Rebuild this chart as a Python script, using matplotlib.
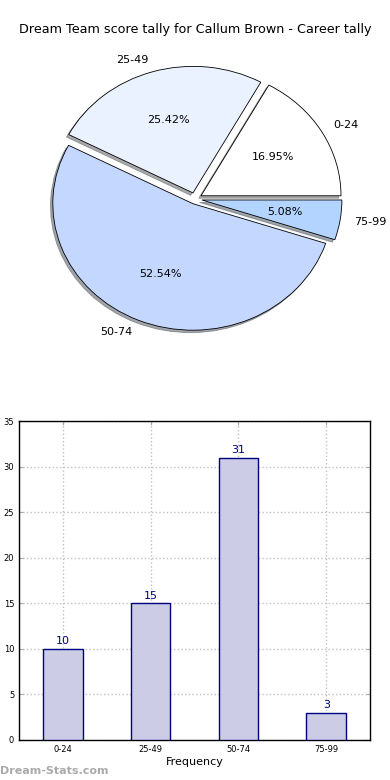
import matplotlib
matplotlib.use("Agg")
import matplotlib.pyplot as plt

# data
ranges = ["0-24", "25-49", "50-74", "75-99"]
counts = [10, 15, 31, 3]
pie_colors = ["#ffffff", "#eaf1ff", "#c4d8ff", "#b3d4ff"]
explode = [0.05, 0.05, 0.04, 0.05]
title = "Dream Team score tally for Callum Brown - Career tally"

fig = plt.figure(figsize=(3.9, 7.8), dpi=100)

# pie (old style, not forced to equal aspect)
ax1 = fig.add_axes([0.0333, 0.534, 0.9333, 0.4218])
wedges, texts, autotexts = ax1.pie(counts, labels=ranges, colors=pie_colors,
                                   explode=explode, autopct="%1.2f%%",
                                   shadow=dict(ox=-0.012, oy=-0.014, shade=0.65),
                                   startangle=0, counterclock=True,
                                   wedgeprops=dict(edgecolor="black", linewidth=0.6),
                                   textprops=dict(fontsize=8))
ax1.set_aspect("auto")
ax1.set_xlim(-1.3, 1.3)
ax1.set_ylim(-1.3, 1.3)
ax1.axis("off")
fig.text(0.5, 1 - 30 / 780, title, ha="center", va="center", fontsize=9.2)

# bar chart
ax2 = fig.add_axes([0.049, 0.0513, 0.9, 0.4087])
x = list(range(len(ranges)))
bars = ax2.bar(x, counts, width=0.45, color="#ccccE6", edgecolor="#000080",
               linewidth=1, zorder=3)
for xi, c in zip(x, counts):
    ax2.text(xi, c + 0.3, str(c), ha="center", va="bottom", fontsize=8,
             color="#000080", zorder=4)
ax2.set_xlim(-0.5, 3.5)
ax2.set_ylim(0, 35)
ax2.set_xticks(x)
ax2.set_xticklabels(ranges)
ax2.set_yticks(range(0, 36, 5))
ax2.tick_params(direction="in", labelsize=6, length=3, color="#aaaaaa",
                top=True, right=True)
ax2.grid(True, linestyle=":", color="#c0c0c0", linewidth=1, zorder=0)
ax2.set_xlabel("Frequency", fontsize=8, labelpad=2)
ax2.set_ylabel("Dream Team Tally", fontsize=8)
for s in ax2.spines.values():
    s.set_linewidth(1)

fig.text(0.0, 1 - 771 / 780, "Dream-Stats.com", ha="left", va="center",
         fontsize=8, color="#aaaaaa", fontweight="semibold")

fig.savefig("out.png", dpi=100)
